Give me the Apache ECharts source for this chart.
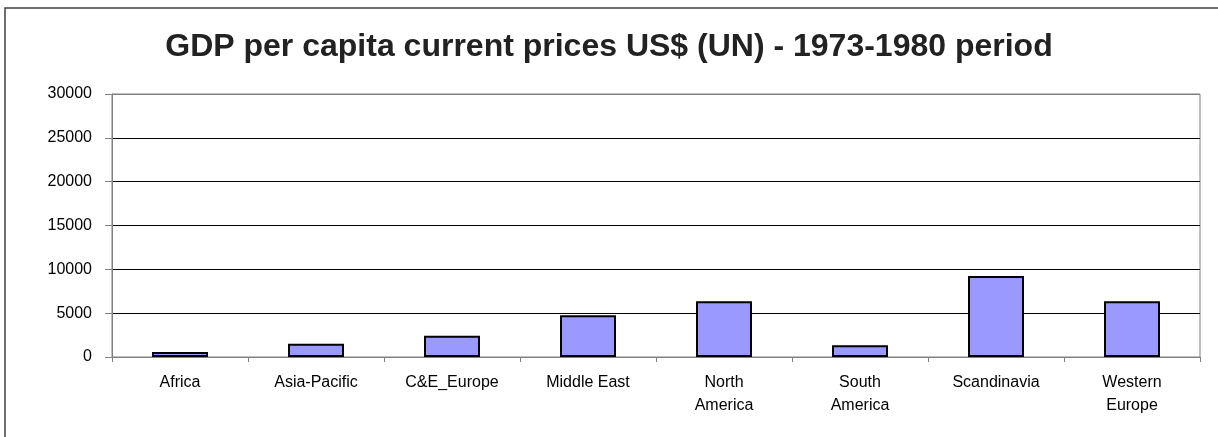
<!DOCTYPE html>
<html>
<head>
<meta charset="utf-8">
<script src="https://cdn.jsdelivr.net/npm/echarts@6/dist/echarts.min.js"></script>
<style>
html,body{margin:0;padding:0;background:#fff;}
#chart{width:1218px;height:437px;}
</style>
</head>
<body>
<div id="chart"></div>
<script>
const titleText = "GDP per capita current prices US$ (UN) - 1973-1980 period";
const categories = ["Africa", "Asia-Pacific", "C&E_Europe", "Middle East", "North\nAmerica", "South\nAmerica", "Scandinavia", "Western\nEurope"];
const gdpValues = [560, 1500, 2420, 4770, 6350, 1350, 9230, 6350];
const yTicks = [0, 5000, 10000, 15000, 20000, 25000, 30000];

const chart = echarts.init(document.getElementById('chart'), null, {renderer: 'canvas'});
chart.setOption({
  animation: false,
  backgroundColor: '#ffffff',
  graphic: [{
    type: 'rect',
    shape: {x: 5, y: 8, width: 1300, height: 600},
    style: {fill: 'none', stroke: '#404040', lineWidth: 1.5},
    silent: true
  }],
  title: {
    text: titleText,
    left: 'center',
    top: 26,
    textStyle: {fontFamily: 'Liberation Sans, Arial, sans-serif', fontSize: 32, fontWeight: 'bold', color: '#222222'}
  },
  grid: {left: 112, right: 18, top: 94, bottom: 80, show: true, borderColor: '#808080', borderWidth: 1},
  xAxis: {
    type: 'category',
    data: categories,
    axisLine: {lineStyle: {color: '#808080', width: 1}},
    axisTick: {show: true, length: 5, alignWithLabel: false, lineStyle: {color: '#808080'}},
    axisLabel: {fontFamily: 'Liberation Sans, Arial, sans-serif', fontSize: 16, color: '#000', margin: 14, lineHeight: 23, interval: 0}
  },
  yAxis: {
    type: 'value',
    min: yTicks[0],
    max: yTicks[yTicks.length - 1],
    interval: yTicks[1] - yTicks[0],
    axisLine: {show: true, lineStyle: {color: '#808080', width: 1}},
    axisTick: {show: true, length: 7, lineStyle: {color: '#808080'}},
    axisLabel: {fontFamily: 'Liberation Sans, Arial, sans-serif', fontSize: 16, color: '#000', margin: 20, formatter: function (v) { return String(v); }},
    splitLine: {show: true, lineStyle: {color: ['#808080', '#000000', '#000000', '#000000', '#000000', '#000000', '#808080'], width: 1}}
  },
  series: [{
    type: 'bar',
    data: gdpValues,
    barWidth: 56,
    itemStyle: {color: '#9999FF', borderColor: '#000000', borderWidth: 2}
  }]
});
</script>
</body>
</html>
